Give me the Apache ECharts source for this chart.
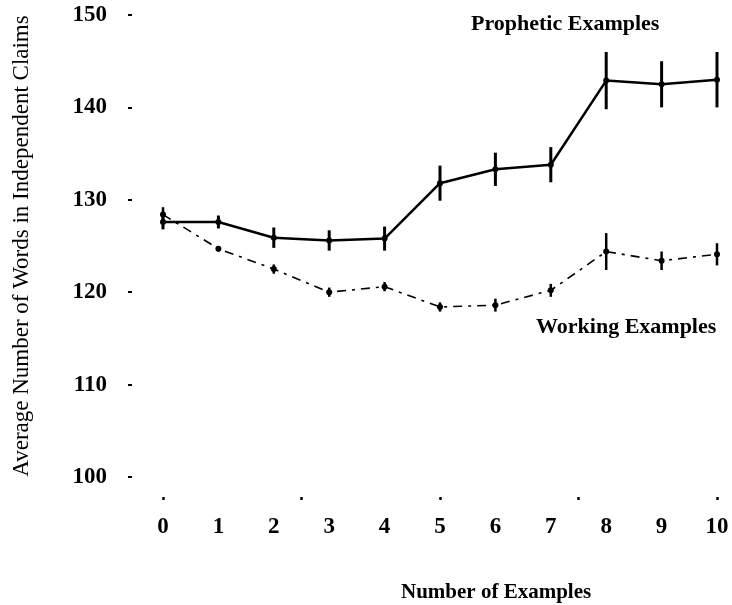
<!DOCTYPE html>
<html>
<head>
<meta charset="utf-8">
<title>Average Number of Words in Independent Claims</title>
<script src="https://cdn.jsdelivr.net/npm/echarts@6/dist/echarts.min.js"></script>
<style>
  html, body { margin: 0; padding: 0; background: #fff; }
  #chart { width: 732px; height: 605px; }
</style>
</head>
<body>
<div id="chart"></div>
<script>
// values
const examples = [0, 1, 2, 3, 4, 5, 6, 7, 8, 9, 10];
const propheticMean = [127.6, 127.6, 125.9, 125.6, 125.8, 131.8, 133.3, 133.8, 142.9, 142.5, 143.0];
const propheticErr = [0.8, 0.7, 1.1, 1.1, 1.3, 1.9, 1.8, 1.9, 3.1, 2.5, 3.0];
const workingMean = [128.4, 124.7, 122.5, 120.0, 120.6, 118.4, 118.6, 120.2, 124.4, 123.4, 124.1];
const workingErr = [0.8, 0.3, 0.5, 0.5, 0.5, 0.5, 0.7, 0.7, 2.0, 1.0, 1.2];

const FONT = "'Liberation Serif', 'DejaVu Serif', serif";

function pairs(means) {
  return examples.map((x, i) => [x, means[i]]);
}

function bars(means, errs) {
  return examples.map((x, i) => [x, means[i] - errs[i], means[i] + errs[i]]);
}

function errorBar(width) {
  return function (params, api) {
    const top = api.coord([api.value(0), api.value(2)]);
    const bottom = api.coord([api.value(0), api.value(1)]);
    return {
      type: "line",
      shape: { x1: top[0], y1: top[1], x2: bottom[0], y2: bottom[1] },
      style: { stroke: "#000", lineWidth: width },
    };
  };
}

const chart = echarts.init(document.getElementById("chart"));

const option = {
  backgroundColor: "#fff",
  animation: false,
  textStyle: { fontFamily: FONT },
  grid: { left: 163, right: 15, top: 15, bottom: 128 },
  xAxis: [
    {
      type: "value",
      position: "bottom",
      min: 0,
      max: 10,
      interval: 1,
      offset: 20,
      axisLine: { show: false, onZero: false },
      axisTick: { show: false },
      splitLine: { show: false },
      axisLabel: {
        margin: 19,
        color: "#000",
        fontFamily: FONT,
        fontWeight: "bold",
        fontSize: 23,
      },
    },
    {
      type: "value",
      position: "bottom",
      min: 0,
      max: 10,
      interval: 2.5,
      offset: 20,
      axisLine: { show: false, onZero: false },
      axisTick: { show: true, length: 3, lineStyle: { color: "#000", width: 2.5 } },
      splitLine: { show: false },
      axisLabel: { show: false },
    },
  ],
  yAxis: {
    type: "value",
    min: 100,
    max: 150,
    interval: 10,
    offset: 31,
    name: "Average Number of Words in Independent Claims",
    nameLocation: "middle",
    nameGap: 99,
    nameTextStyle: { color: "#000", fontFamily: FONT, fontSize: 23 },
    axisLine: { show: false, onZero: false },
    axisTick: { show: true, length: 4, lineStyle: { color: "#000", width: 2 } },
    splitLine: { show: false },
    axisLabel: {
      margin: 25,
      color: "#000",
      fontFamily: FONT,
      fontWeight: "bold",
      fontSize: 23,
    },
  },
  graphic: [
    {
      type: "text",
      left: 471,
      top: 13,
      style: { text: "Prophetic Examples", fill: "#000", font: "bold 22px " + FONT },
    },
    {
      type: "text",
      left: 536,
      top: 316,
      style: { text: "Working Examples", fill: "#000", font: "bold 22px " + FONT },
    },
    {
      type: "text",
      left: 401,
      top: 582,
      style: { text: "Number of Examples", fill: "#000", font: "bold 21px " + FONT },
    },
  ],
  series: [
    {
      name: "Prophetic Examples",
      type: "line",
      data: pairs(propheticMean),
      symbol: "circle",
      symbolSize: 6,
      itemStyle: { color: "#000" },
      lineStyle: { color: "#000", width: 2.5 },
      z: 3,
    },
    {
      name: "Working Examples",
      type: "line",
      data: pairs(workingMean),
      symbol: "circle",
      symbolSize: 6,
      itemStyle: { color: "#000" },
      lineStyle: { color: "#000", width: 1.6, type: [9, 6, 3, 6] },
      z: 3,
    },
    {
      type: "custom",
      renderItem: errorBar(3),
      data: bars(propheticMean, propheticErr),
      encode: { x: 0, y: [1, 2] },
      z: 4,
    },
    {
      type: "custom",
      renderItem: errorBar(2.5),
      data: bars(workingMean, workingErr),
      encode: { x: 0, y: [1, 2] },
      z: 4,
    },
  ],
};

chart.setOption(option);
</script>
</body>
</html>
